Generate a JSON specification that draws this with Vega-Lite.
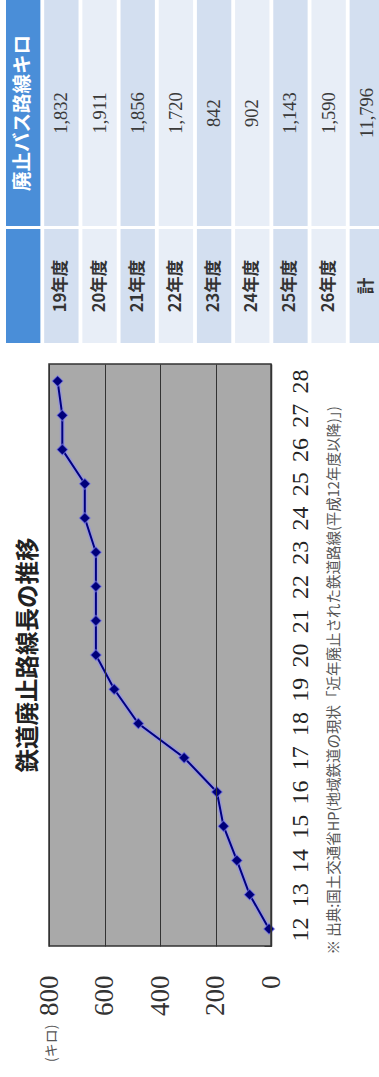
{
  "$schema": "https://vega.github.io/schema/vega-lite/v6.json",
  "padding": 0,
  "background": "white",
  "config": {"view": {"stroke": null}, "font": "Noto Sans CJK JP"},
  "datasets": {
    "table": [
      {"row": "head", "label": "", "km": null, "head": "廃止バス路線キロ", "kind": "head"},
      {"row": "19年度", "label": "19年度", "km": 1832, "head": "", "kind": "odd"},
      {"row": "20年度", "label": "20年度", "km": 1911, "head": "", "kind": "even"},
      {"row": "21年度", "label": "21年度", "km": 1856, "head": "", "kind": "odd"},
      {"row": "22年度", "label": "22年度", "km": 1720, "head": "", "kind": "even"},
      {"row": "23年度", "label": "23年度", "km": 842, "head": "", "kind": "odd"},
      {"row": "24年度", "label": "24年度", "km": 902, "head": "", "kind": "even"},
      {"row": "25年度", "label": "25年度", "km": 1143, "head": "", "kind": "odd"},
      {"row": "26年度", "label": "26年度", "km": 1590, "head": "", "kind": "even"},
      {"row": "計", "label": "計", "km": 11796, "head": "", "kind": "odd"}
    ],
    "rail": [
      {"fy": "12", "km": 7},
      {"fy": "13", "km": 77},
      {"fy": "14", "km": 123},
      {"fy": "15", "km": 171},
      {"fy": "16", "km": 195},
      {"fy": "17", "km": 313},
      {"fy": "18", "km": 478},
      {"fy": "19", "km": 565},
      {"fy": "20", "km": 631},
      {"fy": "21", "km": 631},
      {"fy": "22", "km": 631},
      {"fy": "23", "km": 631},
      {"fy": "24", "km": 671},
      {"fy": "25", "km": 671},
      {"fy": "26", "km": 752},
      {"fy": "27", "km": 752},
      {"fy": "28", "km": 769}
    ]
  },
  "spacing": 20,
  "vconcat": [
    {
      "spacing": 3,
      "vconcat": [
        {
          "width": 379,
          "height": 226,
          "data": {"name": "table"},
          "encoding": {
            "x": {
              "field": "row", "type": "nominal", "sort": null,
              "scale": {"type": "band", "range": [6, 384], "paddingInner": 0.1, "paddingOuter": 0},
              "axis": null
            }
          },
          "layer": [
            {
              "mark": {"type": "rect", "clip": true},
              "encoding": {
                "color": {
                  "field": "kind", "type": "nominal", "legend": null,
                  "scale": {"domain": ["head", "odd", "even"], "range": ["#4a8ed8", "#d3dff0", "#e8eef7"]}
                }
              }
            },
            {
              "transform": [{"filter": "datum.kind != 'head'"}],
              "mark": {"type": "text", "angle": 270, "clip": true, "font": "Liberation Serif", "fontSize": 18.5, "color": "#3a3a3a"},
              "encoding": {"text": {"field": "km", "type": "quantitative", "format": ","}}
            },
            {
              "transform": [{"filter": "datum.kind == 'head'"}],
              "mark": {"type": "text", "angle": 270, "clip": true, "fontSize": 19.5, "fontWeight": "bold", "color": "white"},
              "encoding": {"text": {"field": "head", "type": "nominal"}}
            }
          ]
        },
        {
          "width": 379,
          "height": 114,
          "data": {"name": "table"},
          "encoding": {
            "x": {
              "field": "row", "type": "nominal", "sort": null,
              "scale": {"type": "band", "range": [6, 384], "paddingInner": 0.1, "paddingOuter": 0},
              "axis": null
            }
          },
          "layer": [
            {
              "mark": {"type": "rect", "clip": true},
              "encoding": {
                "color": {
                  "field": "kind", "type": "nominal", "legend": null,
                  "scale": {"domain": ["head", "odd", "even"], "range": ["#4a8ed8", "#d3dff0", "#e8eef7"]}
                }
              }
            },
            {
              "mark": {"type": "text", "angle": 270, "clip": true, "fontSize": 16.5, "fontWeight": "bold", "color": "#333"},
              "encoding": {"text": {"field": "label", "type": "nominal"}}
            }
          ]
        }
      ]
    },
    {
      "width": 271,
      "height": 582,
      "title": {
        "text": "鉄道廃止路線長の推移",
        "orient": "left",
        "anchor": "middle",
        "offset": -40,
        "fontSize": 23.5,
        "fontWeight": "bold",
        "font": "Noto Sans CJK JP",
        "color": "#222"
      },
      "layer": [
        {
          "data": {"values": [{}]},
          "mark": {"type": "rect", "fill": "#a9a9a9"},
          "encoding": {
            "x": {
              "datum": 0, "type": "quantitative",
              "scale": {"domain": [0, 800], "range": [271, 49], "nice": false},
              "axis": {
                "orient": "bottom",
                "values": [0, 200, 400, 600, 800],
                "grid": true, "gridColor": "#333", "gridWidth": 1,
                "domain": false, "ticks": false,
                "labelAngle": 270, "labelAlign": "right", "labelBaseline": "middle",
                "labelPadding": 29, "labelFlush": false, "labelOverlap": false, "labelBound": false,
                "labelFont": "Liberation Sans Narrow", "labelFontSize": 27, "labelColor": "#333",
                "title": "(キロ)", "titleAngle": 270, "titleAlign": "right", "titleBaseline": "middle",
                "titleX": 51, "titleY": 78, "titleFontSize": 14, "titleFontWeight": "normal", "titleColor": "#555",
                "zindex": 1
              }
            },
            "x2": {"datum": 800}
          }
        },
        {
          "data": {"name": "rail"},
          "mark": {"type": "line", "stroke": "#8d8df5", "strokeWidth": 5, "opacity": 0.55},
          "encoding": {
            "x": {"field": "km", "type": "quantitative"},
            "y": {
              "field": "fy", "type": "ordinal", "sort": "descending",
              "scale": {"type": "band", "paddingInner": 0, "paddingOuter": 0},
              "axis": {
                "orient": "right",
                "domain": true, "domainColor": "#333", "domainWidth": 1.5,
                "ticks": true, "tickSize": -7, "tickBand": "extent", "tickColor": "#444",
                "labelAngle": 270, "labelAlign": "center", "labelBaseline": "top",
                "labelPadding": 24, "labelOverlap": false,
                "labelFont": "Liberation Sans Narrow", "labelFontSize": 24, "labelColor": "#222",
                "title": "※ 出典:国土交通省HP(地域鉄道の現状「近年廃止された鉄道路線(平成12年度以降)」)",
                "titleAngle": 270, "titleAlign": "left", "titleBaseline": "middle",
                "titleX": 63, "titleY": 590,
                "titleFont": "Noto Sans CJK JP", "titleFontSize": 14.5, "titleFontWeight": "normal", "titleColor": "#555"
              }
            }
          }
        },
        {
          "data": {"name": "rail"},
          "mark": {"type": "line", "stroke": "#000080", "strokeWidth": 2},
          "encoding": {
            "x": {"field": "km", "type": "quantitative"},
            "y": {"field": "fy", "type": "ordinal", "sort": "descending"}
          }
        },
        {
          "data": {"name": "rail"},
          "mark": {"type": "point", "shape": "diamond", "filled": true, "color": "#00007a", "opacity": 1, "size": 120, "stroke": "#8080f0", "strokeWidth": 1.2, "strokeOpacity": 0.6},
          "encoding": {
            "x": {"field": "km", "type": "quantitative"},
            "y": {"field": "fy", "type": "ordinal", "sort": "descending"}
          }
        },
        {
          "data": {"values": [{}]},
          "mark": {"type": "rect", "fill": null, "stroke": "#333", "strokeWidth": 1.5},
          "encoding": {
            "x": {"datum": 0, "type": "quantitative"},
            "x2": {"datum": 800}
          }
        }
      ]
    }
  ]
}
